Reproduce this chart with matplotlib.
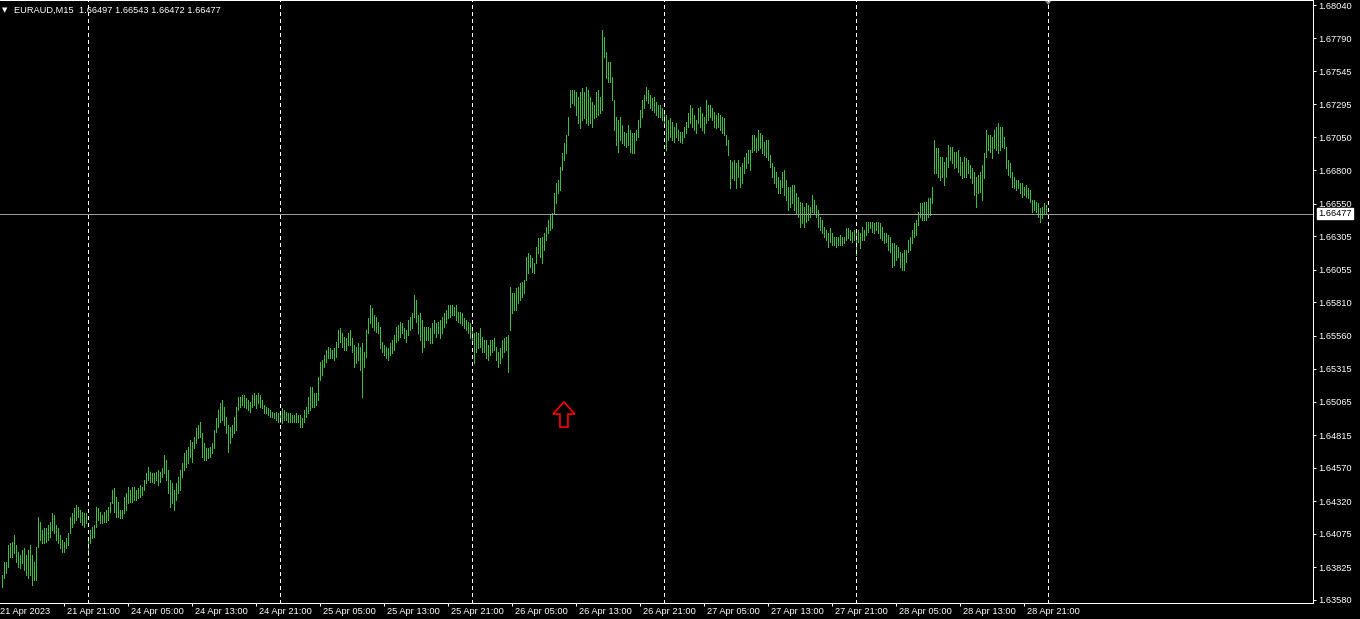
import numpy as np
import pandas as pd
import matplotlib
matplotlib.use('Agg')
import matplotlib.pyplot as plt
from matplotlib import font_manager
from matplotlib.patches import Polygon
from matplotlib.transforms import ScaledTranslation, blended_transform_factory

# EURAUD M15 bar highs / lows in points (1 point = 0.00001), one list per trading day
hi_apr21 = [163766, 163863, 163863, 163991, 164006, 164013, 164066, 163991, 163938, 163916,
            163953, 163968, 163916, 163953, 163991, 163916, 163863, 163976, 164201, 164163,
            164103, 164118, 164118, 164141, 164163, 164231, 164216, 164141, 164118, 164066,
            164028, 164013, 164043, 164081, 164201, 164231, 164268, 164291, 164276, 164253,
            164238, 164231, 164231]
lo_apr21 = [163676, 163743, 163781, 163826, 163901, 163901, 163931, 163863, 163826, 163818,
            163856, 163803, 163766, 163743, 163766, 163691, 163728, 163728, 163976, 164028,
            164006, 164006, 164013, 164028, 164051, 164103, 164081, 164028, 164006, 163968,
            163938, 163938, 163968, 163991, 164081, 164126, 164156, 164178, 164201, 164163,
            164141, 164126, 164156]

hi_apr24 = [164043, 164103, 164126, 164141, 164276, 164268, 164238, 164216, 164238, 164253,
            164276, 164313, 164403, 164418, 164351, 164313, 164253, 164253, 164351, 164381,
            164426, 164403, 164426, 164426, 164403, 164418, 164441, 164426, 164478, 164531,
            164576, 164538, 164531, 164531, 164538, 164553, 164538, 164568, 164666, 164628,
            164553, 164478, 164456, 164403, 164456, 164501, 164553, 164606, 164681, 164703,
            164726, 164778, 164763, 164801, 164868, 164891, 164913, 164831, 164756, 164718,
            164718, 164726, 164756, 164853, 164943, 165003, 165056, 165078, 165026, 164951,
            164891, 164876, 164891, 164951, 165026, 165101, 165101, 165116, 165116, 165093,
            165078, 165063, 165116, 165131, 165116, 165131, 165116, 165078, 165041, 165026,
            165018, 165003, 164988, 164981, 164988, 164981]
lo_apr24 = [163916, 164006, 164043, 164051, 164126, 164178, 164156, 164156, 164163, 164163,
            164178, 164238, 164306, 164238, 164201, 164201, 164193, 164193, 164231, 164253,
            164306, 164313, 164313, 164328, 164328, 164343, 164351, 164366, 164403, 164456,
            164478, 164463, 164463, 164456, 164478, 164441, 164463, 164501, 164531, 164478,
            164381, 164276, 164306, 164253, 164328, 164381, 164403, 164501, 164553, 164576,
            164606, 164651, 164613, 164718, 164756, 164793, 164801, 164651, 164628, 164628,
            164643, 164651, 164681, 164718, 164838, 164876, 164913, 164928, 164891, 164831,
            164688, 164756, 164801, 164831, 164853, 165003, 165026, 165041, 165026, 165018,
            165003, 164988, 165026, 165041, 165018, 165056, 165026, 165018, 164981, 164981,
            164966, 164951, 164951, 164943, 164928, 164913]

hi_apr25 = [164988, 165018, 165003, 164988, 164981, 164981, 164966, 164966, 164981, 164966,
            164966, 164943, 165003, 165026, 165101, 165176, 165176, 165131, 165131, 165251,
            165363, 165378, 165416, 165453, 165476, 165468, 165453, 165468, 165513, 165603,
            165618, 165581, 165551, 165543, 165581, 165603, 165543, 165491, 165476, 165506,
            165476, 165506, 165438, 165603, 165693, 165791, 165768, 165716, 165701, 165663,
            165626, 165513, 165491, 165476, 165468, 165506, 165528, 165566, 165626, 165641,
            165663, 165656, 165618, 165603, 165678, 165701, 165731, 165866, 165828, 165716,
            165731, 165678, 165626, 165626, 165626, 165618, 165656, 165678, 165656, 165663,
            165678, 165701, 165731, 165753, 165791, 165791, 165791, 165776, 165791, 165738,
            165738, 165731, 165693, 165678, 165663, 165656]
lo_apr25 = [164913, 164906, 164928, 164928, 164913, 164913, 164913, 164913, 164913, 164913,
            164876, 164876, 164913, 164951, 164981, 165003, 165026, 165026, 165041, 165078,
            165228, 165266, 165326, 165363, 165393, 165393, 165393, 165378, 165401, 165476,
            165513, 165476, 165453, 165453, 165491, 165491, 165438, 165326, 165356, 165378,
            165303, 165101, 165326, 165401, 165581, 165656, 165626, 165603, 165588, 165581,
            165468, 165438, 165416, 165393, 165378, 165416, 165431, 165453, 165513, 165528,
            165551, 165581, 165543, 165513, 165566, 165603, 165618, 165701, 165663, 165581,
            165528, 165438, 165476, 165528, 165528, 165506, 165506, 165581, 165551, 165581,
            165543, 165581, 165626, 165656, 165693, 165701, 165716, 165716, 165678, 165663,
            165656, 165641, 165618, 165603, 165581, 165543]

hi_apr26 = [165626, 165581, 165588, 165581, 165618, 165551, 165528, 165528, 165491, 165528,
            165528, 165543, 165476, 165438, 165468, 165528, 165543, 165551, 165566, 165926,
            165881, 165881, 165918, 165926, 165956, 165963, 165978, 166151, 166181, 166166,
            166143, 166106, 166226, 166293, 166293, 166301, 166331, 166376, 166428, 166466,
            166481, 166631, 166706, 166728, 166826, 166931, 167006, 167066, 167201, 167403,
            167403, 167403, 167388, 167351, 167388, 167418, 167388, 167426, 167403, 167351,
            167313, 167291, 167388, 167403, 167351, 167853, 167801, 167688, 167613, 167613,
            167501, 167328, 167201, 167178, 167201, 167141, 167088, 167081, 167141, 167103,
            167081, 167081, 167103, 167178, 167253, 167328, 167366, 167426, 167403, 167366,
            167343, 167351, 167313, 167291, 167291, 167268]
lo_apr26 = [165528, 165356, 165438, 165468, 165476, 165438, 165438, 165393, 165378, 165416,
            165438, 165453, 165378, 165326, 165356, 165401, 165438, 165453, 165288, 165603,
            165731, 165753, 165753, 165806, 165828, 165851, 165881, 165978, 166031, 166076,
            166038, 166031, 166106, 166181, 166151, 166106, 166203, 166278, 166331, 166353,
            166368, 166481, 166556, 166631, 166653, 166803, 166878, 166931, 167066, 167276,
            167306, 167291, 167216, 167156, 167118, 167178, 167193, 167156, 167141, 167156,
            167126, 167193, 167201, 167216, 167231, 167253, 167651, 167493, 167463, 167463,
            167328, 167103, 166991, 166938, 167028, 167006, 166991, 166976, 166991, 166938,
            166931, 166931, 167028, 167051, 167126, 167201, 167268, 167328, 167306, 167268,
            167253, 167238, 167216, 167201, 167201, 167178]

hi_apr27 = [167238, 167216, 167178, 167193, 167163, 167126, 167156, 167103, 167088, 167088,
            167126, 167163, 167231, 167291, 167268, 167216, 167178, 167268, 167276, 167231,
            167201, 167328, 167291, 167291, 167268, 167238, 167216, 167231, 167216, 167201,
            167193, 167066, 167028, 166878, 166863, 166878, 166856, 166878, 166826, 166856,
            166901, 166931, 166953, 166953, 167066, 167066, 167043, 167103, 167081, 167066,
            167013, 167028, 167028, 166916, 166856, 166826, 166788, 166751, 166728, 166788,
            166803, 166728, 166676, 166676, 166691, 166691, 166631, 166601, 166563, 166556,
            166526, 166556, 166541, 166526, 166616, 166578, 166541, 166503, 166451, 166428,
            166376, 166353, 166331, 166368, 166331, 166301, 166301, 166301, 166316, 166301,
            166301, 166368, 166368, 166353, 166338, 166353]
lo_apr27 = [167156, 166953, 167028, 167051, 167028, 167013, 167051, 167028, 167013, 167006,
            167051, 167081, 167126, 167156, 167126, 167103, 167081, 167156, 167126, 167103,
            167081, 167156, 167178, 167201, 167178, 167126, 167118, 167126, 167103, 167081,
            167066, 166991, 166916, 166668, 166743, 166728, 166668, 166751, 166676, 166706,
            166781, 166818, 166856, 166803, 166938, 166953, 166938, 166953, 166968, 166931,
            166916, 166901, 166878, 166826, 166751, 166706, 166676, 166631, 166631, 166676,
            166616, 166578, 166503, 166526, 166556, 166503, 166481, 166451, 166376, 166406,
            166376, 166413, 166428, 166451, 166488, 166481, 166451, 166376, 166353, 166331,
            166301, 166278, 166226, 166263, 166241, 166241, 166226, 166241, 166241, 166241,
            166256, 166278, 166293, 166278, 166263, 166278]

hi_apr28 = [166338, 166353, 166331, 166376, 166353, 166413, 166413, 166413, 166413, 166406,
            166413, 166413, 166406, 166376, 166331, 166331, 166316, 166301, 166256, 166256,
            166241, 166226, 166188, 166181, 166203, 166203, 166278, 166301, 166353, 166406,
            166428, 166488, 166556, 166556, 166563, 166563, 166593, 166593, 166676, 167028,
            166968, 166968, 166901, 166901, 166863, 166901, 166991, 166976, 166976, 166938,
            166938, 166953, 166901, 166863, 166901, 166893, 166878, 166841, 166818, 166788,
            166751, 166766, 166788, 166841, 166931, 167103, 167066, 167066, 167051, 167103,
            167126, 167156, 167126, 167126, 167051, 166976, 166878, 166856, 166788, 166751,
            166728, 166728, 166706, 166706, 166676, 166691, 166668, 166653, 166578, 166578,
            166563, 166556, 166518, 166526, 166556, 166543]
lo_apr28 = [166166, 166263, 166218, 166278, 166278, 166316, 166338, 166368, 166338, 166331,
            166353, 166331, 166293, 166278, 166256, 166263, 166203, 166188, 166076, 166091,
            166128, 166151, 166076, 166053, 166053, 166113, 166188, 166203, 166256, 166301,
            166316, 166391, 166451, 166428, 166428, 166428, 166451, 166466, 166556, 166781,
            166781, 166751, 166728, 166751, 166691, 166751, 166826, 166878, 166856, 166818,
            166826, 166788, 166766, 166743, 166751, 166751, 166781, 166743, 166706, 166616,
            166526, 166631, 166638, 166578, 166743, 166901, 166953, 166938, 166893, 166968,
            166953, 166931, 166953, 166976, 166968, 166818, 166766, 166751, 166676, 166668,
            166653, 166668, 166631, 166601, 166616, 166601, 166593, 166563, 166488, 166503,
            166488, 166451, 166413, 166443, 166481, 166472]

session_starts = ['2023-04-21 13:15', '2023-04-24', '2023-04-25',
                  '2023-04-26', '2023-04-27', '2023-04-28']
price_ticks = [1.68040, 1.67790, 1.67545, 1.67295, 1.67050, 1.66800, 1.66550,
               1.66305, 1.66055, 1.65810, 1.65560, 1.65315, 1.65065, 1.64815,
               1.64570, 1.64320, 1.64075, 1.63825, 1.63580]
last_price = 1.66477
header = 'EURAUD,M15  1.66497 1.66543 1.66472 1.66477'
signal_time = '2023-04-26 11:30'
signal_price = 1.65064

# font: narrow sans if present
try:
    font_manager.findfont(font_manager.FontProperties(family='Liberation Sans Narrow'),
                          fallback_to_default=False)
    FONT, FS = 'Liberation Sans Narrow', 8.0
except Exception:
    FONT, FS = 'Liberation Sans', 6.7
plt.rcParams['font.family'] = FONT
plt.rcParams['lines.scale_dashes'] = False
PX = 0.72  # one pixel in points at 100 dpi

highs = np.array(hi_apr21 + hi_apr24 + hi_apr25 + hi_apr26 + hi_apr27 + hi_apr28) / 1e5
lows = np.array(lo_apr21 + lo_apr24 + lo_apr25 + lo_apr26 + lo_apr27 + lo_apr28) / 1e5

times = []
for s in session_starts:
    start = pd.Timestamp(s)
    times.extend(pd.date_range(start, start.normalize() + pd.Timedelta('23:45:00'), freq='15min'))
times = pd.DatetimeIndex(times)
xs = np.arange(len(times))

W, H = 1360, 619
fig = plt.figure(figsize=(W / 100, H / 100), dpi=100, facecolor='black')
ax = fig.add_axes([0, 16 / H, 1313 / W, 603 / H], facecolor='black')

ax.vlines(xs, lows, highs, colors='#3cbf3c', linewidth=PX, antialiased=False)

# 2 px per bar, bar centres on pixel centres
ax.set_xlim(-0.75, 655.25)
ax.set_ylim(1.635574, 1.680775)

# day separators
day_idx = list(np.flatnonzero(times.normalize() != times.normalize().to_series().shift().values)[1:])
day_idx.append(len(times))
for d in day_idx:
    ax.axvline(d, color='white', lw=PX, linestyle=(0, (2.2, 2.2)), antialiased=False)

# current price line and label
ax.axhline(last_price, color='#9a9a9a', lw=PX, antialiased=False)
ty = blended_transform_factory(ax.transAxes, ax.transData)
ax.annotate(f'{last_price:.5f}', xy=(1, last_price), xycoords=ty, xytext=(5, 0),
            textcoords='offset pixels', ha='left', va='center', color='black', fontsize=FS,
            bbox=dict(boxstyle='square,pad=0.15', fc='white', ec='white'), annotation_clip=False)

# price scale
ax.yaxis.tick_right()
ax.set_yticks(price_ticks)
ax.set_yticklabels([f'{p:.5f}' for p in price_ticks])
ax.tick_params(axis='y', colors='white', length=2.2, width=PX, pad=1.5, labelsize=FS)

# time scale
lab_idx = [i for i, t in enumerate(times) if t.minute == 0 and t.hour in (5, 13, 21)]
ax.set_xticks(lab_idx)
ax.set_xticklabels([])
ax.tick_params(axis='x', colors='white', length=2.5, width=PX)
tx = blended_transform_factory(ax.transData, ax.transAxes)
ax.annotate(times[0].strftime('%d %b %Y'), xy=(0, 0), xycoords=ax.transAxes, xytext=(0, -8),
            textcoords='offset pixels', ha='left', va='center', color='white', fontsize=FS,
            annotation_clip=False)
for i in lab_idx:
    ax.annotate(times[i].strftime('%d %b %H:%M'), xy=(i, 0), xycoords=tx, xytext=(3, -8),
                textcoords='offset pixels', ha='left', va='center', color='white',
                fontsize=FS, annotation_clip=False)

ax.spines['left'].set_visible(False)
for side in ['bottom', 'right', 'top']:
    ax.spines[side].set_color('white')
    ax.spines[side].set_linewidth(PX)

# buy arrow
sig_x = times.get_loc(pd.Timestamp(signal_time))
arrow = [(0, 0), (11, -12), (4, -12), (4, -25), (-4, -25), (-4, -12), (-11, -12)]
ax.add_patch(Polygon(arrow, closed=True, fill=False, edgecolor='#ff0000', linewidth=1.2,
                     joinstyle='miter',
                     transform=ScaledTranslation(sig_x, signal_price, ax.transData)))

# chart shift marker
ax.add_patch(Polygon([(-4, 0), (4, 0), (0, -5)], closed=True, facecolor='#8c8c8c',
                     edgecolor='none', clip_on=False,
                     transform=ScaledTranslation(len(times), 1, tx)))

# header
fig.text(2 / W, 1 - 10 / H, '\u25bc', family='DejaVu Sans', fontsize=5, color='white', va='center')
fig.text(14 / W, 1 - 10 / H, header, color='white', fontsize=FS, va='center', ha='left')

fig.savefig('out.png', dpi=100, facecolor='black')
